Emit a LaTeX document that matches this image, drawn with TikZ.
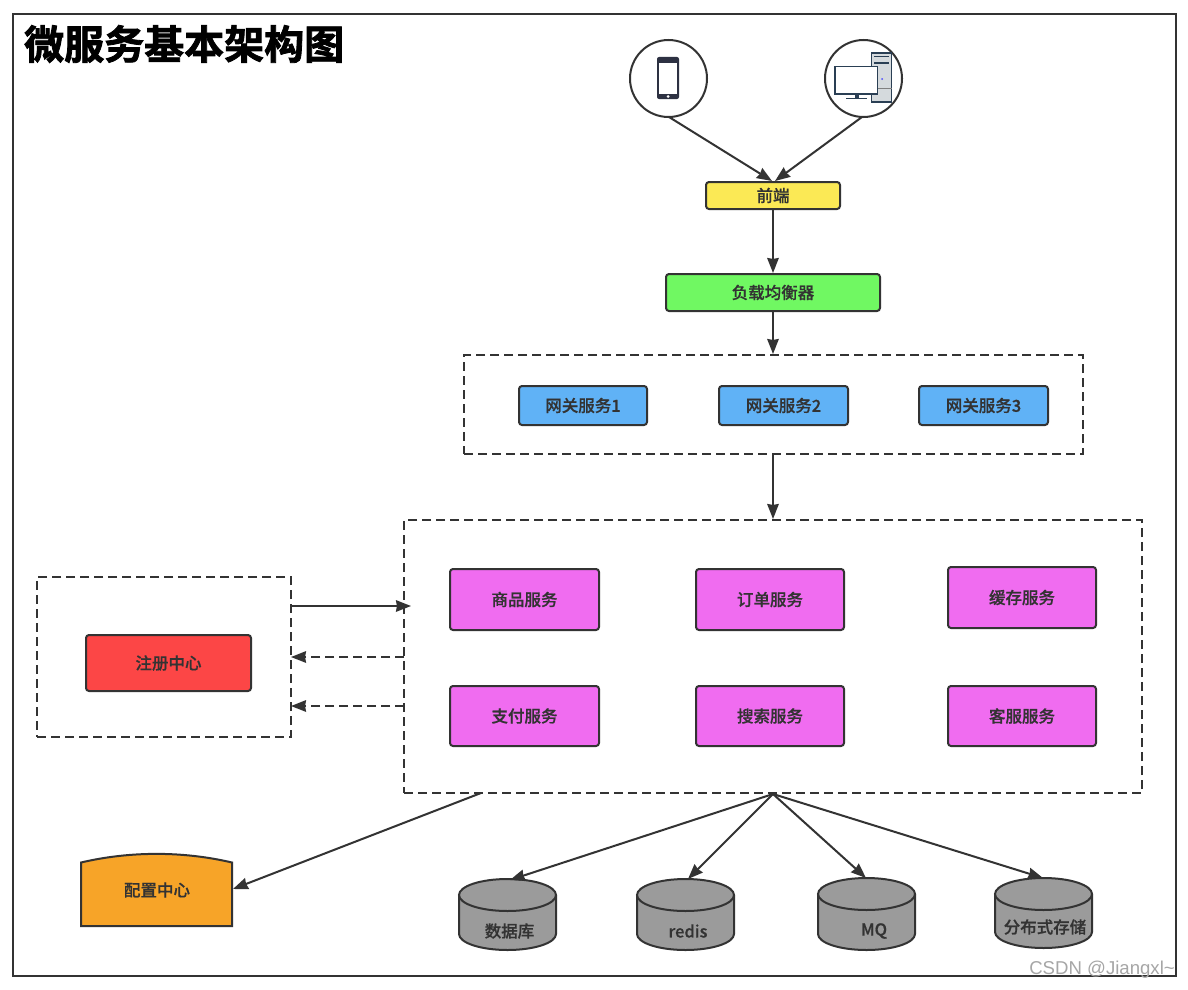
\documentclass[tikz,border=0pt]{standalone}
\usepackage{fontspec}
\setmainfont{Liberation Sans}
\newfontfamily\cjk{Noto Sans CJK SC Medium}[FakeBold=0.7]
\newfontfamily\cjktitle{Noto Sans CJK SC}[BoldFont={Noto Sans CJK SC Bold},BoldFeatures={FakeBold=2}]
\usetikzlibrary{arrows.meta}
\definecolor{ink}{HTML}{333333}
\definecolor{yellowbox}{HTML}{FBE955}
\definecolor{greenbox}{HTML}{70F862}
\definecolor{bluebox}{HTML}{60B2F6}
\definecolor{pinkbox}{HTML}{F06CF0}
\definecolor{redbox}{HTML}{FC4646}
\definecolor{orangebox}{HTML}{F7A428}
\definecolor{cylgray}{HTML}{9B9B9B}
\definecolor{icondark}{HTML}{2D3142}
\definecolor{iconnavy}{HTML}{2A3F54}
\definecolor{icongray}{HTML}{D5DADD}
\newcommand{\tx}[1]{\raisebox{-1pt}{#1}}
\tikzset{
  x=1pt,y=-1pt,
  lbl/.style={font=\cjk\fontsize{16.5}{18}\selectfont,text=ink},
  rbox/.style={lbl,draw=ink,line width=2pt,rounded corners=3pt,inner sep=0pt,anchor=center},
  dashbox/.style={draw=ink,line width=2pt,dash pattern=on 9pt off 5pt,inner sep=0pt,anchor=center},
  conn/.style={draw=ink,line width=2pt,-{Stealth[length=15pt,width=11.5pt,inset=1pt]}},
  dconn/.style={conn,dash pattern=on 9pt off 5pt},
  hub/.style={circle,draw=ink,line width=2pt,minimum size=77pt,inner sep=0pt},
  ghost/.style={inner sep=0pt,anchor=center},
  cylshape/.style={draw=ink,line width=2pt,fill=cylgray},
}
\newcommand{\cylinderat}[7]{% name, cx, top, bottom, label, label x, label y
  \node[ghost,minimum width=97pt,minimum height=#4pt-#3pt] (#1) at (#2,{(#3+#4)/2}) {};
  \fill[cylgray] (#2-48.5,#3+16) -- (#2-48.5,#4-16) arc[start angle=180,end angle=360,x radius=48.5,y radius=-16] -- (#2+48.5,#3+16) arc[start angle=0,end angle=180,x radius=48.5,y radius=-16] -- cycle;
  \draw[cylshape,fill=none] (#2-48.5,#3+16) -- (#2-48.5,#4-16) arc[start angle=180,end angle=360,x radius=48.5,y radius=-16] -- (#2+48.5,#3+16);
  \draw[cylshape] (#2,#3+16) ellipse[x radius=48.5,y radius=16];
  \node[lbl,ghost] (#1t) at (#6,#7) {#5};
}
\begin{document}
\begin{tikzpicture}
\useasboundingbox (0,0) rectangle (1188,990);
\fill[white] (0,0) rectangle (1188,990);
\draw[draw=ink,line width=2pt] (13,14) rectangle (1176,976);
\node[ghost,anchor=west,text=black,font=\cjktitle\bfseries\fontsize{40}{44}\selectfont] (title) at (24,44) {微服务基本架构图};

% clients
\node[hub] (phone) at (668.5,78.5) {};
\node[hub] (pc) at (863.5,78.5) {};
\fill[icondark,rounded corners=2pt] (657,57) rectangle (679,99);
\fill[white] (659,63.5) rectangle (677,94);
\fill[white] (668,96.5) circle (1.5);
\fill[icongray] (871.5,53) rectangle (891.5,102);
\draw[iconnavy,line width=1.2pt] (871.5,53) rectangle (891.5,102);
\draw[iconnavy,line width=1pt] (874,57) -- (889,57);
\draw[iconnavy,line width=2pt] (874,63) -- (889,63);
\draw[gray,line width=.7pt] (871.5,88.5) -- (891.5,88.5);
\fill[blue!70!white] (882,79) circle (1);
\fill[iconnavy] (854.5,94) rectangle (859,98);
\draw[iconnavy,line width=1.2pt] (846,98.5) -- (867,98.5);
\draw[iconnavy,fill=white,line width=1.2pt] (835,66.5) rectangle (877.5,94);

% top chain
\node[rbox,fill=yellowbox,minimum width=134pt,minimum height=27pt] (front) at (773,195.5) {\tx{前端}};
\node[rbox,fill=greenbox,minimum width=214pt,minimum height=37pt] (lb) at (773,292.5) {\tx{负载均衡器}};
\node[dashbox,minimum width=619pt,minimum height=99pt] (gw) at (773.5,404.5) {};
\node[rbox,fill=bluebox,minimum width=128pt,minimum height=39pt] (gw1) at (583,405.5) {\tx{网关服务1}};
\node[rbox,fill=bluebox,minimum width=129pt,minimum height=39pt] (gw2) at (783.5,405.5) {\tx{网关服务2}};
\node[rbox,fill=bluebox,minimum width=129pt,minimum height=39pt] (gw3) at (983.5,405.5) {\tx{网关服务3}};

% services
\node[dashbox,minimum width=738pt,minimum height=273pt] (svc) at (773,656.5) {};
\node[rbox,fill=pinkbox,minimum width=149pt,minimum height=61pt] (s1) at (524.5,599.5) {\tx{商品服务}};
\node[rbox,fill=pinkbox,minimum width=148pt,minimum height=61pt] (s2) at (770,599.5) {\tx{订单服务}};
\node[rbox,fill=pinkbox,minimum width=148pt,minimum height=61pt] (s3) at (1022,597.5) {\tx{缓存服务}};
\node[rbox,fill=pinkbox,minimum width=149pt,minimum height=60pt] (s4) at (524.5,716) {支付服务};
\node[rbox,fill=pinkbox,minimum width=148pt,minimum height=60pt] (s5) at (770,716) {搜索服务};
\node[rbox,fill=pinkbox,minimum width=148pt,minimum height=60pt] (s6) at (1022,716) {客服服务};

% registry
\node[dashbox,minimum width=254pt,minimum height=160pt] (reg) at (164,657) {};
\node[rbox,fill=redbox,minimum width=165pt,minimum height=56pt] (regc) at (168.5,663) {注册中心};

% config centre
\node[ghost,minimum width=151pt,minimum height=73pt] (cfg) at (156.5,889.5) {};
\draw[draw=ink,fill=orangebox,line width=2pt] (81,862.5) .. controls (130,851) and (183,851) .. (232,862.5) -- (232,926) -- (81,926) -- cycle;
\node[lbl,ghost] (cfgt) at (157,890) {配置中心};

% storage
\cylinderat{db}{507.5}{879}{950}{数据库}{509.5}{931}
\cylinderat{redis}{685.5}{879}{950}{redis}{688}{931}
\cylinderat{mq}{866.5}{878}{950}{MQ}{874}{931}
\cylinderat{dfs}{1043.5}{878}{948}{分布式存储}{1045}{927}

% connector ends
\coordinate (ra) at (291,606);
\coordinate (sa) at (411,606);
\coordinate (rb) at (291,657);
\coordinate (sb) at (404,657);
\coordinate (rc) at (291,706);
\coordinate (sc) at (404,706);
\coordinate (sd) at (481,793);
\coordinate (pa) at (669,117);
\coordinate (pb) at (862,117);
\coordinate (fa) at (772,181);
\coordinate (fb) at (775,181);
\coordinate (da) at (510,880);
\coordinate (db2) at (688,879);
\coordinate (db3) at (866,878);
\coordinate (db4) at (1043,878);
\coordinate (ca) at (233,889);

\draw[conn] (pa) -- (fa);
\draw[conn] (pb) -- (fb);
\draw[conn] (front) -- (lb);
\draw[conn] (lb) -- (lb |- gw.north);
\draw[conn] (lb |- gw.south) -- (svc.north);
\draw[conn] (ra) -- (sa);
\draw[dconn] (sb) -- (rb);
\draw[dconn] (sc) -- (rc);
\draw[conn] (sd) -- (ca);
\draw[conn] (svc.south) -- (da);
\draw[conn] (svc.south) -- (db2);
\draw[conn] (svc.south) -- (db3);
\draw[conn] (svc.south) -- (db4);

\node[ghost,anchor=east,text=gray!70,font=\fontsize{18.6}{22}\selectfont] (mark) at (1175,970) {CSDN @Jiangxl\textasciitilde};
\end{tikzpicture}
\end{document}
